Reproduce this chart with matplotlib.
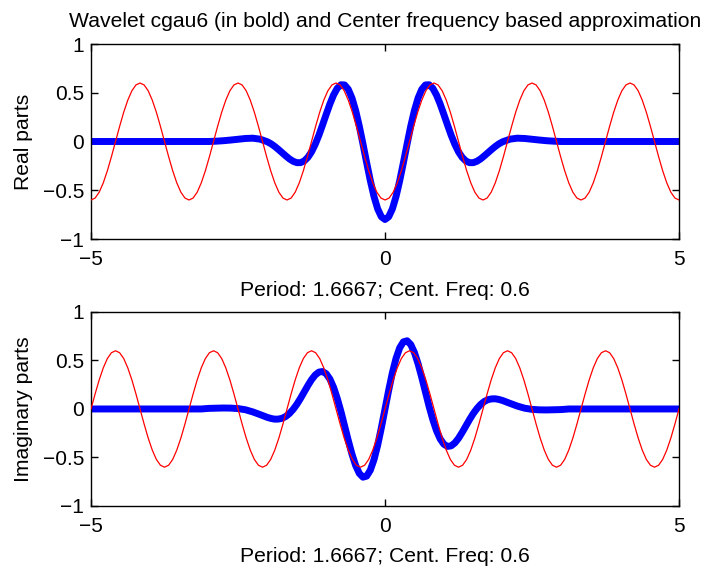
import numpy as np
import matplotlib
matplotlib.use('Agg')
import matplotlib.pyplot as plt

plt.rcParams['font.family'] = ['Liberation Sans', 'DejaVu Sans']

# wavelet cgau6
# sample positions: coarse in the flat tails, 0.125 steps for 2<|x|<3, 0.0625 steps for |x|<2
wav_x = np.concatenate([np.linspace(-5, -3.125, 16), np.linspace(-3, -2.125, 8),
						np.linspace(-2, 2, 65), np.linspace(2.125, 3, 8),
						np.linspace(3.125, 5, 16)])
real_part = [
	0, 0, 0, 0, 0, 0, 0, 0, 0, 0, 0, 0, 0, 0, 0, 0,
	0.000, 0.003, 0.008, 0.015, 0.023, 0.031, 0.034, 0.024,
	-0.003, -0.024, -0.051, -0.082, -0.115, -0.148, -0.179, -0.203,
	-0.217, -0.217, -0.200, -0.163, -0.106, -0.029, 0.064, 0.170,
	0.279, 0.385, 0.477, 0.546, 0.582, 0.580, 0.535, 0.446,
	0.318, 0.157, -0.026, -0.217, -0.401, -0.564, -0.691, -0.772,
	-0.800,
	-0.772, -0.691, -0.564, -0.401, -0.217, -0.026, 0.157, 0.318,
	0.446, 0.535, 0.580, 0.582, 0.546, 0.477, 0.385, 0.279,
	0.170, 0.064, -0.029, -0.106, -0.163, -0.200, -0.217, -0.217,
	-0.203, -0.179, -0.148, -0.115, -0.082, -0.051, -0.024, -0.003,
	0.024, 0.034, 0.031, 0.023, 0.015, 0.008, 0.003, 0.000,
	0, 0, 0, 0, 0, 0, 0, 0, 0, 0, 0, 0, 0, 0, 0, 0,
]
imag_part = [
	0, 0, 0, 0, 0, 0, 0, 0, 0, 0, 0, 0, 0, 0, 0, 0,
	0.006, 0.008, 0.010, 0.009, 0.004, -0.008, -0.030, -0.058,
	-0.087, -0.098, -0.105, -0.104, -0.096, -0.077, -0.046, -0.004,
	0.048, 0.109, 0.175, 0.241, 0.302, 0.350, 0.380, 0.386,
	0.363, 0.308, 0.223, 0.109, -0.026, -0.175, -0.325, -0.465,
	-0.582, -0.664, -0.703, -0.692, -0.631, -0.522, -0.373, -0.194,
	0.000,
	0.194, 0.373, 0.522, 0.631, 0.692, 0.703, 0.664, 0.582,
	0.465, 0.325, 0.175, 0.026, -0.109, -0.223, -0.308, -0.363,
	-0.386, -0.380, -0.350, -0.302, -0.241, -0.175, -0.109, -0.048,
	0.004, 0.046, 0.077, 0.096, 0.104, 0.105, 0.098, 0.087,
	0.058, 0.030, 0.008, -0.004, -0.009, -0.010, -0.008, -0.006,
	0, 0, 0, 0, 0, 0, 0, 0, 0, 0, 0, 0, 0, 0, 0, 0,
]

# centre frequency approximation, 24 samples per period (1.6667)
approx_x = np.linspace(-5, 5, 145)
approx_real = [
	-0.6, -0.58, -0.52, -0.424, -0.3, -0.155, 0, 0.155, 0.3, 0.424, 0.52, 0.58,
	0.6, 0.58, 0.52, 0.424, 0.3, 0.155, 0, -0.155, -0.3, -0.424, -0.52, -0.58,
	-0.6, -0.58, -0.52, -0.424, -0.3, -0.155, 0, 0.155, 0.3, 0.424, 0.52, 0.58,
	0.6, 0.58, 0.52, 0.424, 0.3, 0.155, 0, -0.155, -0.3, -0.424, -0.52, -0.58,
	-0.6, -0.58, -0.52, -0.424, -0.3, -0.155, 0, 0.155, 0.3, 0.424, 0.52, 0.58,
	0.6, 0.58, 0.52, 0.424, 0.3, 0.155, 0, -0.155, -0.3, -0.424, -0.52, -0.58,
	-0.6, -0.58, -0.52, -0.424, -0.3, -0.155, 0, 0.155, 0.3, 0.424, 0.52, 0.58,
	0.6, 0.58, 0.52, 0.424, 0.3, 0.155, 0, -0.155, -0.3, -0.424, -0.52, -0.58,
	-0.6, -0.58, -0.52, -0.424, -0.3, -0.155, 0, 0.155, 0.3, 0.424, 0.52, 0.58,
	0.6, 0.58, 0.52, 0.424, 0.3, 0.155, 0, -0.155, -0.3, -0.424, -0.52, -0.58,
	-0.6, -0.58, -0.52, -0.424, -0.3, -0.155, 0, 0.155, 0.3, 0.424, 0.52, 0.58,
	0.6, 0.58, 0.52, 0.424, 0.3, 0.155, 0, -0.155, -0.3, -0.424, -0.52, -0.58,
	-0.6,
]
approx_imag = [
	0, 0.155, 0.3, 0.424, 0.52, 0.58, 0.6, 0.58, 0.52, 0.424, 0.3, 0.155,
	0, -0.155, -0.3, -0.424, -0.52, -0.58, -0.6, -0.58, -0.52, -0.424, -0.3, -0.155,
	0, 0.155, 0.3, 0.424, 0.52, 0.58, 0.6, 0.58, 0.52, 0.424, 0.3, 0.155,
	0, -0.155, -0.3, -0.424, -0.52, -0.58, -0.6, -0.58, -0.52, -0.424, -0.3, -0.155,
	0, 0.155, 0.3, 0.424, 0.52, 0.58, 0.6, 0.58, 0.52, 0.424, 0.3, 0.155,
	0, -0.155, -0.3, -0.424, -0.52, -0.58, -0.6, -0.58, -0.52, -0.424, -0.3, -0.155,
	0, 0.155, 0.3, 0.424, 0.52, 0.58, 0.6, 0.58, 0.52, 0.424, 0.3, 0.155,
	0, -0.155, -0.3, -0.424, -0.52, -0.58, -0.6, -0.58, -0.52, -0.424, -0.3, -0.155,
	0, 0.155, 0.3, 0.424, 0.52, 0.58, 0.6, 0.58, 0.52, 0.424, 0.3, 0.155,
	0, -0.155, -0.3, -0.424, -0.52, -0.58, -0.6, -0.58, -0.52, -0.424, -0.3, -0.155,
	0, 0.155, 0.3, 0.424, 0.52, 0.58, 0.6, 0.58, 0.52, 0.424, 0.3, 0.155,
	0, -0.155, -0.3, -0.424, -0.52, -0.58, -0.6, -0.58, -0.52, -0.424, -0.3, -0.155,
	0,
]

title = 'Wavelet cgau6 (in bold) and Center frequency based approximation'
xlabel = 'Period: 1.6667; Cent. Freq: 0.6'
ylabels = ['Real parts', 'Imaginary parts']
xticks = [-5, 0, 5]
yticks = [-1, -0.5, 0, 0.5, 1]
ytick_labels = ['\u22121', '\u22120.5', '0', '0.5', '1']
xtick_labels = ['\u22125', '0', '5']

fig = plt.figure(figsize=(7.14, 5.70), dpi=100)
ax_top = fig.add_axes([0.1275, 0.5807, 0.8235, 0.3421])
ax_bot = fig.add_axes([0.1275, 0.1123, 0.8235, 0.3404])

fs = 15.2
for axis, wav, approx, ylab in [(ax_top, real_part, approx_real, ylabels[0]),
								(ax_bot, imag_part, approx_imag, ylabels[1])]:
	axis.plot(wav_x, wav, color='blue', linewidth=5, solid_joinstyle='round', zorder=2)
	axis.plot(approx_x, approx, color='red', linewidth=0.9, zorder=3)
	axis.set_xlim(-5, 5)
	axis.set_ylim(-1, 1)
	axis.set_xticks(xticks)
	axis.set_xticklabels(xtick_labels)
	axis.set_yticks(yticks)
	axis.set_yticklabels(ytick_labels)
	axis.tick_params(direction='in', length=5, width=1, top=True, right=True,
					 labelsize=15, colors='black')
	axis.tick_params(axis='x', pad=8)
	axis.tick_params(axis='y', pad=5)
	for spine in axis.spines.values():
		spine.set_linewidth(1)
	axis.set_xlabel(xlabel, fontsize=fs)
	axis.set_ylabel(ylab, fontsize=fs)
	axis.yaxis.set_label_coords(-0.098, 0.5)

ax_top.xaxis.set_label_coords(0.5, -0.215)
ax_bot.xaxis.set_label_coords(0.5, -0.211)
ax_top.set_title(title, fontsize=fs, pad=12)

plt.savefig('out.png', dpi=100)
